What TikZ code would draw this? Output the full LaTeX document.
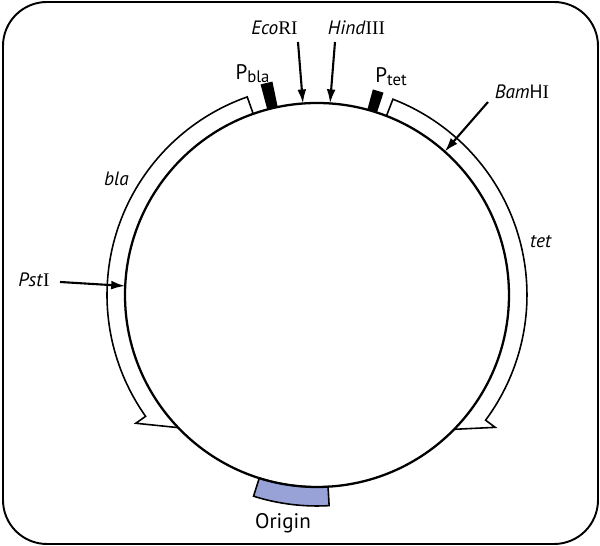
\documentclass[tikz,border=0pt]{standalone}
\usepackage{fontspec}
\setmainfont{PT Sans}
\newfontfamily\romfont{Liberation Serif}
\usetikzlibrary{arrows.meta}
\definecolor{oriblue}{RGB}{152,162,214}
\newcommand{\RN}[1]{{\romfont #1}}
\newcommand{\Prom}[1]{P\raisebox{-0.25ex}{\fontsize{9.5}{10}\selectfont #1}}

\begin{document}
\begin{tikzpicture}[x=0.02cm,y=0.02cm,>={Latex[length=8pt,width=5pt]},
  site/.style={anchor=base,inner sep=0pt,font=\fontsize{11}{13}\selectfont},
  big/.style={anchor=base,inner sep=0pt,font=\fontsize{12}{14}\selectfont},
  gene/.style={line width=0.9pt,line join=miter},
  pointer/.style={->,line width=1.2pt}]
  \useasboundingbox (-317,-251) rectangle (283,295);
  \draw[line width=1.1pt,rounded corners=25pt] (-314,-249) rectangle (281,293);
  % genes
  \draw[gene] (109.4:192) -- (109.4:210) arc[start angle=109.4,end angle=215.3,radius=210]
    -- (215.3:222) -- (223.7:192);
  \draw[gene] (68.8:192) -- (68.8:210) arc[start angle=68.8,end angle=-36.6,radius=210]
    -- (-36.6:222) -- (-44.4:192);
  % promoters
  \fill (101.8:192) -- (101.8:218) -- (105:218) -- (105:192) -- cycle;
  \fill (71.8:192) -- (71.8:213) -- (74.8:213) -- (74.8:192) -- cycle;
  % origin
  \draw[fill=oriblue,line width=0.9pt] (252.5:192) -- (252.5:211)
    arc[start angle=252.5,end angle=273.3,radius=211] -- (273.3:192)
    arc[start angle=273.3,end angle=252.5,radius=192] -- cycle;
  \draw[line width=1.3pt] (0,0) circle[radius=192];
  % labels
  \node[site] (eco) at (-42.5,260) {\textit{Eco}\RN{RI}};
  \node[site] (hind) at (39.5,260) {\textit{Hind}\RN{III}};
  \node[site] (bam) at (205,196) {\textit{Bam}H\RN{I}};
  \node[site] (pst) at (-283,8) {\textit{Pst}\RN{I}};
  \node[site] (blalab) at (-200.5,109) {\textit{bla}};
  \node[site] (tetlab) at (224,47) {\textit{tet}};
  \node[big] (pbla) at (-64.5,215) {\Prom{bla}};
  \node[big] (ptet) at (74,212) {\Prom{tet}};
  \node[big] (ori) at (-34,-234) {Origin};
  % cut sites
  \coordinate (ecoS) at (-19,253);
  \coordinate (ecoT) at (94.2:192);
  \coordinate (hindS) at (18,253);
  \coordinate (hindT) at (86.1:192);
  \coordinate (bamS) at (171,193);
  \coordinate (bamT) at (48.3:192);
  \coordinate (pstS) at (-257,13);
  \coordinate (pstT) at (177.3:192);
  \draw[pointer] (ecoS) -- (ecoT);
  \draw[pointer] (hindS) -- (hindT);
  \draw[pointer] (bamS) -- (bamT);
  \draw[pointer] (pstS) -- (pstT);
\end{tikzpicture}
\end{document}
